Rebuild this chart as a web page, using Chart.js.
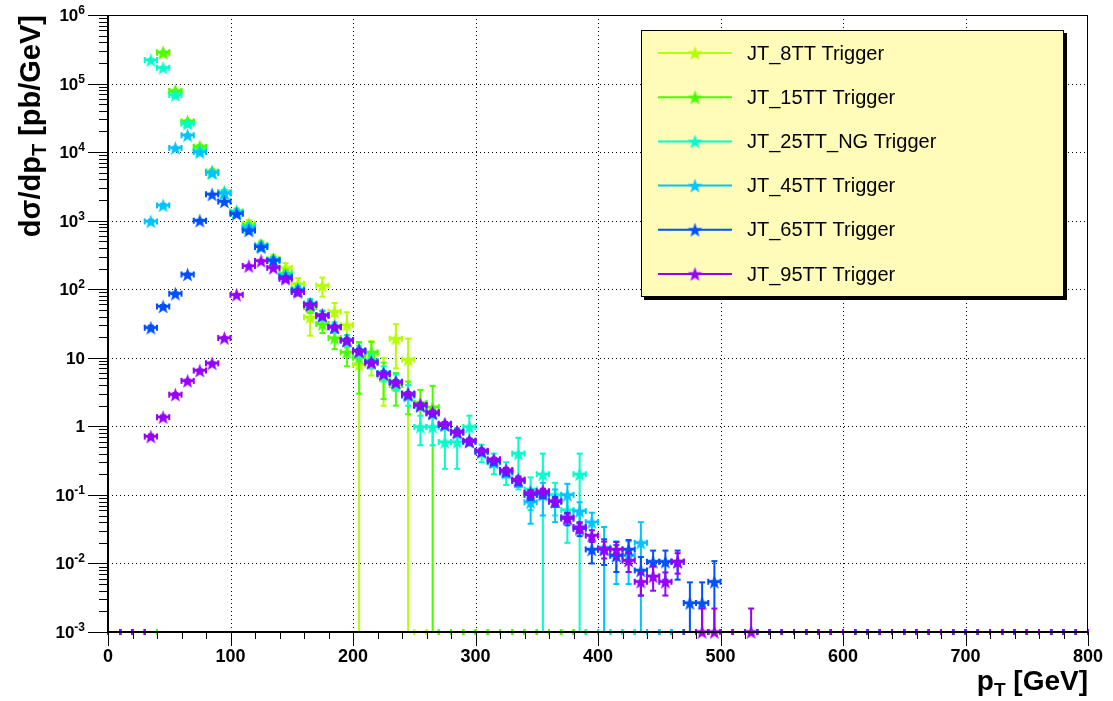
<!DOCTYPE html>
<html lang="en">
<head>
<meta charset="UTF-8">
<title>JT triggers - dsigma/dpT</title>
<script src="https://cdn.jsdelivr.net/npm/chart.js"></script>
<style>
    body {
        margin: 0;
        background: #ffffff;
    }
    #chart {
        display: block;
    }
</style>
</head>
<body>
<canvas id="chart" width="1113" height="701"></canvas>
<script>
// 10 GeV bins, centres in GeV
const binCenters = [5, 15, 25, 35, 45, 55, 65, 75, 85, 95, 105, 115, 125, 135, 145, 155, 165, 175, 185, 195,
    205, 215, 225, 235, 245, 255, 265, 275, 285, 295, 305, 315, 325, 335, 345, 355, 365, 375, 385, 395,
    405, 415, 425, 435, 445, 455, 465, 475, 485, 495, 505, 515, 525, 535, 545, 555, 565, 575, 585, 595,
    605, 615, 625, 635, 645, 655, 665, 675, 685, 695, 705, 715, 725, 735, 745, 755, 765, 775, 785, 795];
const binHalfWidth = 5;

const xTickValues = [0, 100, 200, 300, 400, 500, 600, 700, 800];
const xTickLabels = ['0', '100', '200', '300', '400', '500', '600', '700', '800'];
const yTickValues = [1e-3, 1e-2, 1e-1, 1, 10, 1e2, 1e3, 1e4, 1e5, 1e6];
const yTickLabels = [['10', '-3'], ['10', '-2'], ['10', '-1'], ['1', ''], ['10', ''],
    ['10', '2'], ['10', '3'], ['10', '4'], ['10', '5'], ['10', '6']];

// JT_8TT
const pt8 = [45, 55, 65, 75, 85, 95, 105, 115, 125, 135, 145, 155, 165, 175, 185, 195, 205, 215, 225, 235, 245];
const val8 = [2.8e5, 7.7e4, 2.75e4, 1.15e4, 5100, 2550, 1350, 900, 440, 275, 205, 120, 39, 113, 47, 30, 7.9, 11.5, 6, 19, 9.4];
const err8 = [9000, 3500, 1500, 900, 500, 300, 170, 120, 70, 45, 35, 25, 18, 35, 16, 16, 8.5, 6, 4, 12, 9.6];

// JT_15TT
const pt15 = [45, 55, 65, 75, 85, 95, 105, 115, 125, 135, 145, 155, 165, 175, 185, 195, 205, 215, 225, 235, 245, 255, 265];
const val15 = [2.85e5, 7.8e4, 2.8e4, 1.2e4, 5200, 2600, 1350, 850, 430, 260, 170, 95, 55, 31, 19.4, 12, 10, 12, 5.5, 4, 3, 2.2, 1.9];
const err15 = [6000, 2500, 1200, 700, 350, 200, 110, 80, 50, 30, 22, 14, 10, 8, 6, 4.5, 7, 5, 3, 2, 1.5, 1.2, 2];

// JT_25TT_NG
const pt25 = [35, 45, 55, 65, 75, 85, 95, 105, 115, 125, 135, 145, 155, 165, 175, 185, 195, 205, 215, 225,
    235, 245, 255, 265, 275, 285, 295, 305, 315, 325, 335, 345, 355, 365, 375, 385];
const val25 = [2.2e5, 1.7e5, 6.8e4, 2.6e4, 1.05e4, 5000, 2600, 1350, 800, 430, 270, 160, 100, 62, 42, 28, 18, 12.5, 9, 6,
    4.5, 3, 0.98, 0.98, 0.59, 0.59, 0.98, 0.42, 0.3, 0.22, 0.4, 0.12, 0.2, 0.1, 0.06, 0.2];
const err25 = [5000, 4000, 2000, 1000, 500, 300, 180, 110, 75, 45, 30, 20, 14, 10, 7, 5, 3.5, 2.5, 2, 1.5,
    1.2, 1, 0.45, 0.45, 0.35, 0.35, 0.45, 0.12, 0.1, 0.08, 0.28, 0.06, 0.2, 0.05, 0.04, 0.2];

// JT_45TT
const pt45 = [35, 45, 55, 65, 75, 85, 95, 105, 115, 125, 135, 145, 155, 165, 175, 185, 195, 205, 215, 225,
    235, 245, 255, 265, 275, 285, 295, 305, 315, 325, 335, 345, 355, 365, 375, 385, 395, 405, 415, 425, 435];
const val45 = [975, 1670, 1.15e4, 1.76e4, 1.0e4, 5000, 2500, 1300, 780, 430, 265, 155, 97, 60, 42, 28, 18, 12.5, 8.8, 5.9,
    4.3, 2.8, 2.0, 1.55, 1.05, 0.8, 0.6, 0.42, 0.3, 0.21, 0.16, 0.078, 0.1, 0.08, 0.1, 0.058, 0.04, 0.017, 0.013, 0.013, 0.02];
const err45 = [60, 90, 400, 600, 400, 250, 150, 90, 60, 35, 25, 16, 11, 8, 6, 2.5, 1.6, 1.1, 0.8, 0.55,
    0.4, 0.28, 0.2, 0.16, 0.11, 0.09, 0.07, 0.05, 0.04, 0.03, 0.03, 0.04, 0.05, 0.04, 0.045, 0.02, 0.015, 0.017, 0.008, 0.008, 0.02];

// JT_65TT
const pt65 = [35, 45, 55, 65, 75, 85, 95, 105, 115, 125, 135, 145, 155, 165, 175, 185, 195, 205, 215, 225,
    235, 245, 255, 265, 275, 285, 295, 305, 315, 325, 335, 345, 355, 365, 375, 385, 395, 405, 415, 425,
    435, 445, 455, 465, 475, 485, 495];
const val65 = [27.4, 56, 86, 164, 1000, 2420, 1900, 1260, 720, 413, 263, 150, 96, 60, 41, 28, 18, 12.8, 8.6, 5.9,
    4.4, 2.9, 2.0, 1.55, 1.05, 0.82, 0.6, 0.43, 0.31, 0.22, 0.16, 0.1, 0.105, 0.08, 0.045, 0.032, 0.016, 0.016, 0.013, 0.016,
    0.0079, 0.0106, 0.0106, 0.0106, 0.00265, 0.00265, 0.0054];
const err65 = [2, 3, 4, 6, 30, 50, 40, 30, 20, 12, 8, 5, 3.5, 2.5, 2, 1.5, 1.1, 0.8, 0.6, 0.45,
    0.35, 0.25, 0.18, 0.14, 0.1, 0.08, 0.06, 0.045, 0.035, 0.028, 0.022, 0.016, 0.016, 0.013, 0.009, 0.007, 0.006, 0.0065, 0.0055, 0.006,
    0.0045, 0.0048, 0.0048, 0.0048, 0.00265, 0.00265, 0.0054];

// JT_95TT
const pt95 = [35, 45, 55, 65, 75, 85, 95, 105, 115, 125, 135, 145, 155, 165, 175, 185, 195, 205, 215, 225,
    235, 245, 255, 265, 275, 285, 295, 305, 315, 325, 335, 345, 355, 365, 375, 385, 395, 405, 415, 425,
    435, 445, 455, 465, 485, 495, 525];
const val95 = [0.71, 1.36, 2.9, 4.6, 6.5, 8.3, 19.4, 83, 218, 259, 205, 142, 91, 59, 41.5, 28, 17.9, 12.4, 8.5, 5.8,
    4.4, 2.98, 2.06, 1.61, 1.09, 0.84, 0.62, 0.44, 0.33, 0.23, 0.167, 0.107, 0.113, 0.081, 0.047, 0.034, 0.0255, 0.0163, 0.016, 0.011,
    0.0054, 0.0065, 0.0054, 0.0106, 0.001, 0.001, 0.001];
const err95 = [0.05, 0.08, 0.15, 0.2, 0.25, 0.3, 0.6, 2, 4, 5, 4, 3, 2, 1.4, 1, 0.7, 0.5, 0.35, 0.25, 0.18,
    0.14, 0.1, 0.08, 0.06, 0.045, 0.035, 0.03, 0.022, 0.018, 0.015, 0.012, 0.009, 0.01, 0.008, 0.007, 0.006, 0.005, 0.0045, 0.0045, 0.0035,
    0.002, 0.0025, 0.002, 0.0035, 0.0012, 0.0012, 0.0012];

const series = [
    { label: 'JT_8TT Trigger', color: '#b4ff00', pt: pt8, val: val8, err: err8 },
    { label: 'JT_15TT Trigger', color: '#48ff00', pt: pt15, val: val15, err: err15 },
    { label: 'JT_25TT_NG Trigger', color: '#00ffcc', pt: pt25, val: val25, err: err25 },
    { label: 'JT_45TT Trigger', color: '#00c4ff', pt: pt45, val: val45, err: err45 },
    { label: 'JT_65TT Trigger', color: '#0050ff', pt: pt65, val: val65, err: err65 },
    { label: 'JT_95TT Trigger', color: '#9600ff', pt: pt95, val: val95, err: err95 }
];

const FONT = '"Liberation Sans", Helvetica, Arial, sans-serif';

// filled five-point star, like ROOT marker 29
function starImage(color) {
    const c = document.createElement('canvas');
    c.width = 17;
    c.height = 17;
    const g = c.getContext('2d');
    g.fillStyle = color;
    g.beginPath();
    for (let i = 0; i < 10; i++) {
        const r = i % 2 ? 3.1 : 7.8;
        const a = -Math.PI / 2 + i * Math.PI / 5;
        g.lineTo(8.5 + r * Math.cos(a), 9.2 + r * Math.sin(a));
    }
    g.closePath();
    g.fill();
    return c;
}

function line(ctx, x0, y0, x1, y1) {
    ctx.beginPath();
    ctx.moveTo(x0, y0);
    ctx.lineTo(x1, y1);
    ctx.stroke();
}

const cap = 3;

// ROOT style E1 error bars, drawn just before each dataset's markers
const errorBars = {
    id: 'errorBars',
    beforeDatasetDraw(chart, args) {
        const ds = chart.data.datasets[args.index];
        const { ctx, chartArea: a, scales: { x, y } } = chart;
        ctx.save();
        ctx.strokeStyle = ds.borderColor;
        ctx.lineWidth = 2;

        // empty bins sit on the bottom edge
        ds.emptyBins.forEach(c => {
            const x0 = x.getPixelForValue(c - binHalfWidth);
            const x1 = x.getPixelForValue(c + binHalfWidth);
            line(ctx, x0, a.bottom, x1, a.bottom);
            line(ctx, x0, a.bottom - cap, x0, a.bottom + cap);
            line(ctx, x1, a.bottom - cap, x1, a.bottom + cap);
        });

        ds.data.forEach(p => {
            const px = x.getPixelForValue(p.x);
            const x0 = x.getPixelForValue(p.x - binHalfWidth);
            const x1 = x.getPixelForValue(p.x + binHalfWidth);
            const py = Math.min(y.getPixelForValue(p.y), a.bottom);
            line(ctx, x0, py, x1, py);
            line(ctx, x0, py - cap, x0, py + cap);
            line(ctx, x1, py - cap, x1, py + cap);
            const lo = p.y - p.e;
            const hi = p.y + p.e;
            const pyHi = y.getPixelForValue(hi);
            const pyLo = lo > y.min ? y.getPixelForValue(lo) : a.bottom;
            line(ctx, px, pyLo, px, pyHi);
            line(ctx, px - cap, pyHi, px + cap, pyHi);
            if (lo > y.min) line(ctx, px - cap, pyLo, px + cap, pyLo);
        });
        ctx.restore();
    }
};

const frame = {
    id: 'frame',
    beforeDatasetsDraw(chart) {
        const { ctx, chartArea: a, scales: { x, y } } = chart;
        ctx.save();
        ctx.strokeStyle = '#000';
        ctx.lineWidth = 1;
        ctx.setLineDash([1, 3]);
        xTickValues.forEach(v => {
            if (v <= x.min || v >= x.max) return;
            const px = Math.round(x.getPixelForValue(v)) + 0.5;
            line(ctx, px, a.top, px, a.bottom);
        });
        yTickValues.forEach(v => {
            if (v <= y.min || v >= y.max) return;
            const py = Math.round(y.getPixelForValue(v)) + 0.5;
            line(ctx, a.left, py, a.right, py);
        });
        ctx.restore();
    },
    afterDatasetsDraw(chart) {
        const { ctx, chartArea: a, scales: { x, y } } = chart;
        ctx.save();
        ctx.strokeStyle = '#000';
        ctx.fillStyle = '#000';

        // frame
        ctx.lineWidth = 1;
        ctx.strokeRect(a.left, a.top + 0.5, a.right - a.left - 0.5, a.bottom - a.top);
        ctx.lineWidth = 2;
        line(ctx, a.left, a.top, a.left, a.bottom + 1);
        line(ctx, a.left - 1, a.bottom, a.right, a.bottom);

        // x ticks
        ctx.lineWidth = 1;
        for (let v = x.min; v <= x.max; v += 20) {
            const px = Math.round(x.getPixelForValue(v)) + 0.5;
            const len = xTickValues.includes(v) ? 14 : 7;
            line(ctx, px, a.bottom, px, a.bottom + len);
        }
        // y ticks
        yTickValues.forEach((v, i) => {
            const py = Math.round(y.getPixelForValue(v)) + 0.5;
            line(ctx, a.left - 20, py, a.left, py);
            if (i === yTickValues.length - 1) return;
            for (let m = 2; m < 10; m++) {
                const pm = Math.round(y.getPixelForValue(v * m)) + 0.5;
                line(ctx, a.left - 9, pm, a.left, pm);
            }
        });

        // x tick labels
        ctx.font = 'bold 18px ' + FONT;
        ctx.textAlign = 'center';
        ctx.textBaseline = 'alphabetic';
        xTickValues.forEach((v, i) => {
            ctx.fillText(xTickLabels[i], x.getPixelForValue(v), a.bottom + 30);
        });

        // y tick labels with exponents
        yTickValues.forEach((v, i) => {
            const py = y.getPixelForValue(v);
            const [base, exp] = yTickLabels[i];
            const right = a.left - 23;
            ctx.textAlign = 'left';
            let ew = 0;
            if (exp) {
                ctx.font = 'bold 12px ' + FONT;
                ew = ctx.measureText(exp).width;
                ctx.fillText(exp, right - ew, py - 1);
            }
            ctx.font = 'bold 17px ' + FONT;
            const bw = ctx.measureText(base).width;
            ctx.fillText(base, right - ew - bw, py + 6);
        });

        // x title: p_T [GeV]
        ctx.textAlign = 'left';
        const big = 'bold 28px ' + FONT;
        const sub = 'bold 19px ' + FONT;
        ctx.font = big;
        const wP = ctx.measureText('p').width;
        const wRest = ctx.measureText(' [GeV]').width;
        ctx.font = sub;
        const wT = ctx.measureText('T').width;
        let tx = a.right - wP - wT - wRest;
        const ty = 690;
        ctx.font = big;
        ctx.fillText('p', tx, ty);
        ctx.font = sub;
        ctx.fillText('T', tx + wP, ty + 6);
        ctx.font = big;
        ctx.fillText(' [GeV]', tx + wP + wT, ty);

        // y title: dσ/dp_T [pb/GeV]
        ctx.save();
        ctx.translate(40, a.top);
        ctx.rotate(-Math.PI / 2);
        const ybig = 'bold 29px ' + FONT;
        const ysub = 'bold 20px ' + FONT;
        ctx.font = ybig;
        const w1 = ctx.measureText('d\u03c3/dp').width;
        const w3 = ctx.measureText(' [pb/GeV]').width;
        ctx.font = ysub;
        const w2 = ctx.measureText('T').width;
        let s = -(w1 + w2 + w3);
        ctx.font = ybig;
        ctx.fillText('d\u03c3/dp', s, 0);
        ctx.font = ysub;
        ctx.fillText('T', s + w1, 6);
        ctx.font = ybig;
        ctx.fillText(' [pb/GeV]', s + w1 + w2, 0);
        ctx.restore();

        ctx.restore();
    },
    afterDraw(chart) {
        const { ctx } = chart;
        const bx = 641, by = 30, bw = 423, bh = 267;
        ctx.save();
        ctx.fillStyle = '#000';
        ctx.fillRect(bx + 3, by + 3, bw, bh);
        ctx.fillStyle = '#fffbb8';
        ctx.fillRect(bx, by, bw, bh);
        ctx.strokeStyle = '#000';
        ctx.lineWidth = 1;
        ctx.strokeRect(bx + 0.5, by + 0.5, bw - 1, bh - 1);
        ctx.font = '20px ' + FONT;
        ctx.textBaseline = 'middle';
        ctx.textAlign = 'left';
        chart.data.datasets.forEach((ds, i) => {
            const ly = by + 23 + i * 44.2;
            ctx.strokeStyle = ds.borderColor;
            ctx.lineWidth = 2;
            line(ctx, bx + 17, ly, bx + 91, ly);
            const img = ds.pointStyle;
            ctx.drawImage(img, bx + 54 - img.width / 2, ly - img.height / 2);
            ctx.fillStyle = '#000';
            ctx.fillText(ds.label, bx + 106, ly + 1);
        });
        ctx.restore();
    }
};

const datasets = series.map((s, i) => ({
    label: s.label,
    data: s.pt.map((p, k) => ({ x: p, y: s.val[k], e: s.err[k] })),
    emptyBins: binCenters.filter(c => !s.pt.includes(c)),
    borderColor: s.color,
    backgroundColor: s.color,
    showLine: false,
    pointStyle: starImage(s.color),
    order: series.length - i,
    clip: false
}));

new Chart(document.getElementById('chart'), {
    type: 'line',
    data: { datasets },
    options: {
        responsive: false,
        animation: false,
        events: [],
        layout: { padding: { left: 108, right: 25, top: 15, bottom: 69 } },
        plugins: { legend: { display: false }, tooltip: { enabled: false } },
        scales: {
            x: { type: 'linear', min: 0, max: 800, display: false },
            y: { type: 'logarithmic', min: 1e-3, max: 1e6, display: false }
        }
    },
    plugins: [frame, errorBars]
});
</script>
</body>
</html>
